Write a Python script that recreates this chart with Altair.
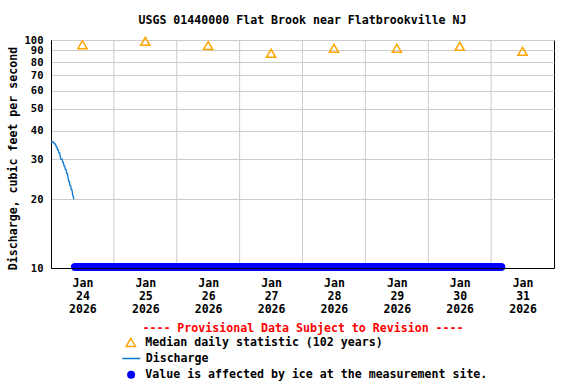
import altair as alt
import pandas as pd

# ---- text ----
title_text = "USGS 01440000 Flat Brook near Flatbrookville NJ"
y_title = "Discharge, cubic feet per second"
provisional = "---- Provisional Data Subject to Revision ----"
median_label = "Median daily statistic (102 years)"
discharge_label = "Discharge"
ice_label = "Value is affected by ice at the measurement site."

# ---- data ----
median_dates = ["2026-01-24T12:00:00", "2026-01-25T12:00:00", "2026-01-26T12:00:00",
                "2026-01-27T12:00:00", "2026-01-28T12:00:00", "2026-01-29T12:00:00",
                "2026-01-30T12:00:00", "2026-01-31T12:00:00"]
median_values = [95.4, 98.7, 94.6, 87.4, 92.0, 92.0, 93.8, 89.2]

discharge_start = "2026-01-24T00:00:00"
discharge_values = [35.7, 35.7, 35.7, 35.7, 35.7, 35.0, 35.0, 35.0, 34.0, 34.0,
                    33.0, 33.0, 32.0, 32.0, 31.0, 30.0, 30.0, 30.0, 29.0, 29.0,
                    28.0, 28.0, 27.0, 27.0, 26.0, 26.0, 25.0, 24.0, 24.0, 23.0,
                    23.0, 22.0, 22.0, 21.0, 20.5, 20.0]

ice_start = "2026-01-24T09:00:00"
ice_end = "2026-01-31T04:00:00"
ice_value = 10.0

day_boundaries = ["2026-01-25", "2026-01-26", "2026-01-27", "2026-01-28",
                  "2026-01-29", "2026-01-30", "2026-01-31"]
label_days = [24, 25, 26, 27, 28, 29, 30, 31]
y_ticks = [10, 20, 30, 40, 50, 60, 70, 80, 90, 100]

# ---- tables ----
median_df = pd.DataFrame({"time": pd.to_datetime(median_dates), "value": median_values,
                          "m": median_label})
discharge_df = pd.DataFrame({
    "time": pd.date_range(discharge_start, periods=len(discharge_values), freq="15min"),
    "value": discharge_values, "d": discharge_label})
ice_times = pd.date_range(ice_start, ice_end, freq="15min")
ice_df = pd.DataFrame({"time": ice_times, "value": [ice_value] * len(ice_times),
                       "i": ice_label})
grid_df = pd.DataFrame({"time": pd.to_datetime(day_boundaries)})

FONT = "DejaVu Sans Mono"
ORANGE = "#FFA500"
LINEBLUE = "#0a78d2"
ICEBLUE = "#0000FF"

x_scale = alt.Scale(domain=[alt.DateTime(year=2026, month=1, date=24),
                            alt.DateTime(year=2026, month=2, date=1)])
y_scale = alt.Scale(type="log", domain=[10, 100])

x_axis = alt.Axis(
    values=[alt.DateTime(year=2026, month=1, date=d) for d in label_days],
    grid=False, ticks=False, domainColor="black", zindex=1, labelFlush=False,
    labelAlign="center",
    labelExpr="[timeFormat(datum.value, '%b'), timeFormat(datum.value, '%d'), timeFormat(datum.value, '%Y')]",
    labelOffset=31.44, labelLineHeight=13, labelPadding=9, labelFont=FONT,
    labelFontSize=11.5, labelFontWeight="bold", labelColor="black", labelOverlap=False,
    title=provisional, titleColor="#FF0000", titleFont=FONT, titleFontSize=11.6,
    titleFontWeight="bold", titlePadding=8)

y_axis = alt.Axis(
    values=y_ticks, grid=True, gridColor="#cccccc", ticks=False, domainColor="black",
    labelPadding=8, labelFont=FONT, labelFontSize=10.5, labelFontWeight="bold",
    labelColor="black", labelOverlap=False, format="d",
    title=y_title, titleFont=FONT, titleFontSize=11.6, titleFontWeight="bold",
    titleColor="black", titlePadding=6, titleY=118)

common_legend = dict(title=None, orient="none", padding=0, labelFont=FONT,
                     labelFontSize=11.6, labelFontWeight="bold", labelColor="black",
                     labelLimit=0, clipHeight=12, symbolOpacity=1)

med_legend = alt.Legend(legendX=74, legendY=296.5, symbolType="triangle-up",
                        symbolSize=90, symbolStrokeWidth=1.5, symbolStrokeColor=ORANGE,
                        symbolFillColor="transparent", labelOffset=8.7, **common_legend)
dis_legend = alt.Legend(legendX=70.35, legendY=312.5, symbolType="stroke",
                        symbolSize=324, symbolStrokeWidth=1.3, labelOffset=4.35,
                        **common_legend)
ice_legend = alt.Legend(legendX=74.3, legendY=328.7, symbolType="circle",
                        symbolSize=64, symbolStrokeWidth=0, labelOffset=8.4,
                        **common_legend)

grid = alt.Chart(grid_df).mark_rule(color="#cccccc", strokeWidth=1).encode(
    x=alt.X("time:T", scale=x_scale, axis=x_axis))

med = alt.Chart(median_df).mark_point(shape="triangle-up", filled=False, size=85,
                                      strokeWidth=1.5, opacity=1, color=ORANGE).encode(
    x=alt.X("time:T", scale=x_scale, axis=x_axis),
    y=alt.Y("value:Q", scale=y_scale, axis=y_axis),
    shape=alt.Shape("m:N", scale=alt.Scale(domain=[median_label], range=["triangle-up"]),
                    legend=med_legend))

line = alt.Chart(discharge_df).mark_line(strokeWidth=1.3).encode(
    x=alt.X("time:T", scale=x_scale, axis=x_axis),
    y=alt.Y("value:Q", scale=y_scale, axis=y_axis),
    color=alt.Color("d:N", scale=alt.Scale(domain=[discharge_label], range=[LINEBLUE]),
                    legend=dis_legend))

ice = alt.Chart(ice_df).mark_circle(size=55, opacity=1, yOffset=-1).encode(
    x=alt.X("time:T", scale=x_scale, axis=x_axis),
    y=alt.Y("value:Q", scale=y_scale, axis=y_axis),
    fill=alt.Fill("i:N", scale=alt.Scale(domain=[ice_label], range=[ICEBLUE]),
                  legend=ice_legend))

chart = alt.layer(grid, med, line, ice).properties(
    width=503, height=228,
    title=alt.TitleParams(title_text, font=FONT, fontSize=11.6, fontWeight="bold",
                          color="black", anchor="middle", offset=8),
    autosize=alt.AutoSizeParams(type="none"),
    padding={"left": 51, "top": 40, "right": 22, "bottom": 116},
    background="white",
).configure_view(stroke="black", strokeWidth=1)

chart.save("out.html", embed_options={"renderer": "svg", "actions": False})
